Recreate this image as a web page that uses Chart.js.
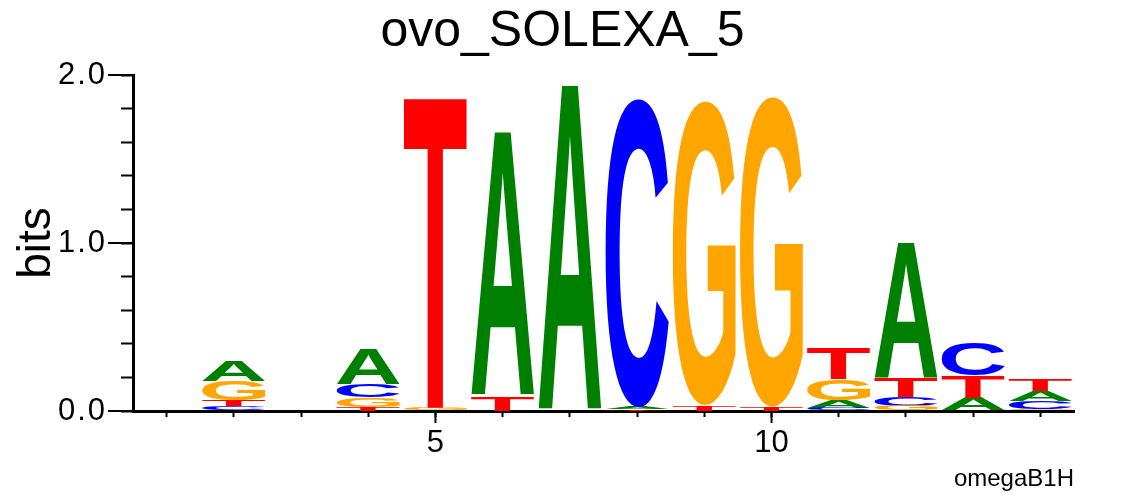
<!DOCTYPE html>
<html>
<head>
<meta charset="utf-8">
<script src="https://cdn.jsdelivr.net/npm/chart.js@4.4.0/dist/chart.umd.min.js"></script>
<style>
  html, body { margin: 0; padding: 0; background: #fff; }
</style>
</head>
<body>
<canvas id="logo" width="1125" height="496"></canvas>
<script>
const positions = ["1", "2", "3", "4", "5", "6", "7", "8", "9", "10", "11", "12", "13", "14"];
const bitsA = [0, 0.12, 0, 0.21, 0, 1.573, 1.94, 0.012, 0, 0, 0.047, 0.81, 0.08, 0.06];
const bitsC = [0, 0.027, 0, 0.078, 0, 0, 0, 1.837, 0, 0, 0.018, 0.056, 0.193, 0.047];
const bitsG = [0, 0.116, 0, 0.058, 0.02, 0, 0, 0, 1.81, 1.846, 0.128, 0.03, 0, 0.013];
const bitsT = [0, 0.035, 0, 0.022, 1.855, 0.09, 0, 0.01, 0.035, 0.025, 0.18, 0.112, 0.13, 0.066];
const xLabelsShown = ["5", "10"];
const yMajor = [0, 1, 2];

const baseColors = { A: "#008000", C: "#0000ff", G: "#ffa500", T: "#ff0000" };
const FONT = "'Liberation Sans', Arial, Helvetica, sans-serif";

function byId(id) {
  return document.getElementById(id);
}

// stack letters per column, smallest at the bottom
function buildStacks() {
  const heights = { A: bitsA, C: bitsC, G: bitsG, T: bitsT };
  const ranges = { A: [], C: [], G: [], T: [] };
  positions.forEach((_, i) => {
    const order = Object.keys(heights).sort((a, b) => heights[a][i] - heights[b][i]);
    let y = 0;
    order.forEach((b) => {
      const h = heights[b][i];
      ranges[b][i] = h > 0 ? [y, y + h] : null;
      y += h;
    });
  });
  return ranges;
}

function drawGlyph(ctx, ch, color, left, top, w, h) {
  if (w <= 0 || h <= 0) return;
  ctx.save();
  ctx.font = "bold 200px " + FONT;
  const m = ctx.measureText(ch);
  const gl = m.actualBoundingBoxLeft;
  const gw = gl + m.actualBoundingBoxRight;
  const ga = m.actualBoundingBoxAscent;
  const gh = ga + m.actualBoundingBoxDescent;
  ctx.translate(left, top);
  ctx.scale(w / gw, h / gh);
  ctx.fillStyle = color;
  ctx.textAlign = "left";
  ctx.textBaseline = "alphabetic";
  ctx.fillText(ch, gl, ga);
  ctx.restore();
}

const letterPlugin = {
  id: "letters",
  afterDatasetsDraw(chart) {
    const ctx = chart.ctx;
    chart.data.datasets.forEach((ds, di) => {
      const meta = chart.getDatasetMeta(di);
      meta.data.forEach((bar, i) => {
        if (!ds.data[i]) return;
        const p = bar.getProps(["x", "y", "base", "width"], true);
        const top = Math.min(p.y, p.base);
        const h = Math.abs(p.base - p.y);
        drawGlyph(ctx, ds.label, baseColors[ds.label], p.x - p.width / 2, top, p.width, h);
      });
    });
  }
};

// the y tick labels in the original are set a little wider apart
const spacedLabels = {
  id: "spacedLabels",
  afterLayout(chart) {
    const s = chart.scales.y;
    if (s._spaced) return;
    const orig = s.drawLabels.bind(s);
    s.drawLabels = (area) => {
      chart.ctx.save();
      chart.ctx.letterSpacing = "2px";
      orig(area);
      chart.ctx.restore();
    };
    s._spaced = true;
  }
};

// longer marks for the labelled ticks
const majorTickPlugin = {
  id: "majorTicks",
  afterDraw(chart) {
    const ctx = chart.ctx;
    const xs = chart.scales.x;
    const ys = chart.scales.y;
    const area = chart.chartArea;
    ctx.save();
    ctx.strokeStyle = "#000";
    ctx.lineWidth = 2;
    yMajor.forEach((v) => {
      const y = Math.round(ys.getPixelForValue(v));
      ctx.beginPath();
      ctx.moveTo(area.left - 25, y);
      ctx.lineTo(area.left, y);
      ctx.stroke();
    });
    xLabelsShown.forEach((l) => {
      const x = xs.getPixelForValue(positions.indexOf(l));
      ctx.beginPath();
      ctx.moveTo(x, area.bottom);
      ctx.lineTo(x, area.bottom + 12);
      ctx.stroke();
    });
    ctx.restore();
  }
};

const ranges = buildStacks();

new Chart(byId("logo"), {
  type: "bar",
  data: {
    labels: positions,
    datasets: ["A", "C", "G", "T"].map((b) => ({
      label: b,
      data: ranges[b],
      backgroundColor: "rgba(0,0,0,0)",
      borderWidth: 0,
      grouped: false,
      barPercentage: 1,
      categoryPercentage: 0.94
    }))
  },
  options: {
    responsive: false,
    animation: false,
    devicePixelRatio: 1,
    layout: { padding: 0 },
    plugins: {
      legend: { display: false },
      tooltip: { enabled: false },
      title: {
        display: true,
        text: "ovo_SOLEXA_5",
        color: "#000",
        font: { family: FONT, size: 50, weight: "normal" },
        padding: { top: 2, bottom: 13 }
      }
    },
    scales: {
      x: {
        type: "category",
        offset: true,
        grid: { offset: false, drawOnChartArea: false, drawTicks: true, tickLength: 6, tickWidth: 2, tickColor: "#000" },
        border: { display: true, color: "#000", width: 3 },
        ticks: {
          autoSkip: false,
          maxRotation: 0,
          color: "#000",
          padding: 8,
          font: { family: FONT, size: 31 },
          callback: (v, i) => (xLabelsShown.includes(positions[i]) ? positions[i] : "")
        },
        title: {
          display: true,
          text: "omegaB1H",
          align: "end",
          color: "#000",
          font: { family: FONT, size: 24 },
          padding: { top: 0, bottom: 2 }
        },
        afterFit(s) { s.height = 85; }
      },
      y: {
        min: 0,
        max: 2,
        grid: { drawOnChartArea: false, drawTicks: true, tickLength: 12, tickWidth: 2, tickColor: "#000" },
        border: { display: true, color: "#000", width: 3 },
        ticks: {
          stepSize: 0.2,
          autoSkip: false,
          color: "#000",
          padding: 14,
          font: { family: FONT, size: 31 },
          callback: (v) => (Math.abs(v - Math.round(v)) < 1e-6 ? Math.round(v).toFixed(1) : "")
        },
        title: {
          display: true,
          text: "bits",
          color: "#000",
          font: { family: FONT, size: 46 },
          padding: { top: 10, bottom: 0 }
        },
        afterFit(s) { s.width = 133; }
      },
      // empty right margin so the title is centred on the whole canvas
      margin: {
        type: "linear",
        position: "right",
        min: 0,
        max: 1,
        grid: { display: false },
        border: { display: false },
        ticks: { display: false },
        afterFit(s) { s.width = 51; }
      }
    }
  },
  plugins: [letterPlugin, spacedLabels, majorTickPlugin]
});
</script>
</body>
</html>
